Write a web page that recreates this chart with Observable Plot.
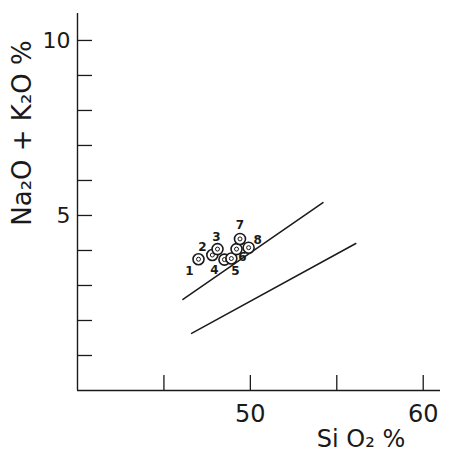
<!DOCTYPE html>
<html><head><meta charset="utf-8">
<script src="https://cdn.jsdelivr.net/npm/d3@7"></script>
<script src="https://cdn.jsdelivr.net/npm/@observablehq/plot@0.6"></script>
<style>body{margin:0;background:#fff} svg{display:block}</style>
</head><body><div id="chart"></div>
<script>
// ---- data ----
const sampleIds = ["1", "2", "3", "4", "5", "6", "7", "8"];
const sio2 = [47.0, 47.8, 48.1, 48.5, 48.9, 49.2, 49.4, 49.9];
const alkalis = [3.75, 3.87, 4.04, 3.74, 3.77, 4.04, 4.33, 4.08];
const upperLineSiO2 = [46.1, 54.2];
const upperLineAlk = [2.6, 5.37];
const lowerLineSiO2 = [46.6, 56.1];
const lowerLineAlk = [1.63, 4.2];
const xTicks = [45, 50, 55, 60];
const xTickLabels = [50, 60];
const yTicks = [1, 2, 3, 4, 5, 6, 7, 8, 9, 10];
const yTickLabels = [5, 10];
const xTitle = "Si O₂ %";
const yTitle = "Na₂O + K₂O %";

// ---- layout (label placement offsets in px) ----
const labelDx = [-9, -10, -1, -10, 4, 6, 0, 9];
const labelDy = [12, -8, -12, 11, 13, 8, -14, -8];

const points = sampleIds.map((id, i) => ({id, x: sio2[i], y: alkalis[i]}));
const lines = [
  ...upperLineSiO2.map((x, i) => ({line: "upper", x, y: upperLineAlk[i]})),
  ...lowerLineSiO2.map((x, i) => ({line: "lower", x, y: lowerLineAlk[i]}))
];
const ink = "#1a1a1a";

const chart = Plot.plot({
  width: 457,
  height: 461,
  marginLeft: 77,
  marginRight: 17,
  marginTop: 13,
  marginBottom: 71,
  style: {fontFamily: "'DejaVu Sans', sans-serif", background: "#fff", color: ink},
  x: {domain: [40, 61], axis: null},
  y: {domain: [0, 10.77], axis: null},
  marks: [
    Plot.axisX(xTicks, {tickSize: -15, tickFormat: () => "", label: null, stroke: ink, strokeWidth: 1.3}),
    Plot.axisX(xTickLabels, {tickSize: 0, tickPadding: 14, label: null, fontSize: 24, fill: ink}),
    Plot.axisY(yTicks, {tickSize: -15, tickFormat: () => "", label: null, stroke: ink, strokeWidth: 1.3}),
    Plot.axisY(yTickLabels, {tickSize: 0, tickPadding: 7, label: null, fontSize: 22, fill: ink}),
    Plot.ruleY([0], {stroke: ink, strokeWidth: 1.4}),
    Plot.ruleX([40], {stroke: ink, strokeWidth: 1.4}),
    Plot.line(lines, {x: "x", y: "y", z: "line", stroke: ink, strokeWidth: 1.5}),
    Plot.dot(points, {x: "x", y: "y", r: 5.5, fill: "white", stroke: ink, strokeWidth: 1.6}),
    Plot.dot(points, {x: "x", y: "y", r: 2, fill: "none", stroke: ink, strokeWidth: 1}),
    ...points.map((p, i) => Plot.text([p], {
      x: "x", y: "y", text: "id", dx: labelDx[i], dy: labelDy[i],
      fontSize: 12, fontWeight: 600, fill: ink
    })),
    Plot.text([xTitle], {frameAnchor: "bottom", textAnchor: "middle", lineAnchor: "middle",
      dx: 102, dy: 49, fontSize: 24, fill: ink, text: d => d}),
    Plot.text([yTitle], {frameAnchor: "left", textAnchor: "middle", lineAnchor: "middle", rotate: -90,
      dx: -55, dy: -69, fontSize: 26, fill: ink, letterSpacing: "1px", text: d => d})
  ]
});
document.getElementById("chart").appendChild(chart);
</script>
</body></html>
